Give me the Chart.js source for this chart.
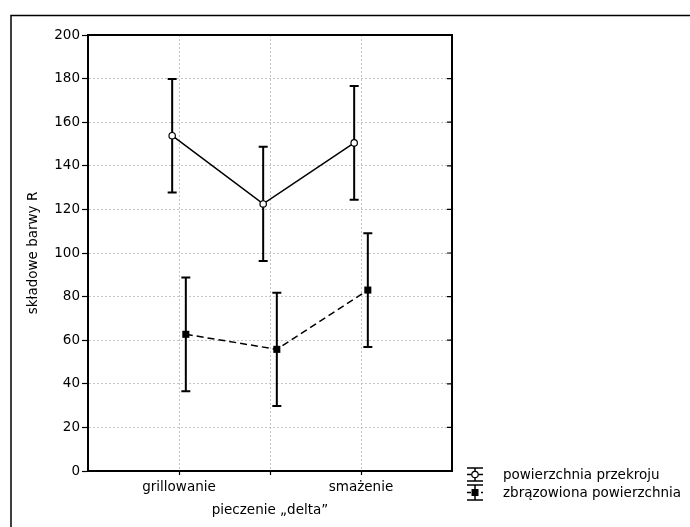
<!DOCTYPE html>
<html>
<head>
<meta charset="utf-8">
<script src="https://cdn.jsdelivr.net/npm/chart.js@4"></script>
<style>
  html, body { margin: 0; padding: 0; background: #fff; }
  #wrap { width: 690px; height: 527px; position: relative; }
</style>
</head>
<body>
<div id="wrap"><canvas id="chart"></canvas></div>
<script>
const categories = ['grillowanie', 'pieczenie „delta”', 'smażenie'];
const seriesNames = ['powierzchnia przekroju', 'zbrązowiona powierzchnia'];
const przekrojMean = [153.8, 122.5, 150.5];
const przekrojErr = [26.0, 26.2, 26.1];
const zbrazMean = [62.7, 55.8, 83.0];
const zbrazErr = [26.1, 26.0, 26.1];
const yTicks = [0, 20, 40, 60, 80, 100, 120, 140, 160, 180, 200];

const FONT = { family: '"DejaVu Sans", sans-serif', size: 13.5 };
const shift = 0.075;

const toPoints = (vals, err, dx) => vals.map((v, i) => ({ x: i + 1 + dx, y: v, e: err[i] }));

// error bars, drawn under the lines and markers
const errorBars = {
    id: 'errorBars',
    beforeDatasetsDraw(chart) {
        const { ctx, scales: { x, y } } = chart;
        ctx.save();
        ctx.strokeStyle = '#000';
        ctx.lineWidth = 2;
        chart.data.datasets.forEach(ds => {
            ds.data.forEach(p => {
                const px = x.getPixelForValue(p.x);
                const top = y.getPixelForValue(p.y + p.e);
                const bot = y.getPixelForValue(p.y - p.e);
                ctx.beginPath();
                ctx.moveTo(px, top); ctx.lineTo(px, bot);
                ctx.moveTo(px - 4.5, top); ctx.lineTo(px + 4.5, top);
                ctx.moveTo(px - 4.5, bot); ctx.lineTo(px + 4.5, bot);
                ctx.stroke();
            });
        });
        ctx.restore();
    }
};

// outer frame, top/right plot border, inner right ticks, legend
const frame = {
    id: 'frame',
    afterDraw(chart) {
        const { ctx, chartArea: a, scales: { y } } = chart;
        ctx.save();
        ctx.strokeStyle = '#000';
        ctx.lineWidth = 1.5;
        ctx.beginPath();
        ctx.moveTo(11, 527); ctx.lineTo(11, 15.5); ctx.lineTo(690, 15.5);
        ctx.stroke();

        ctx.lineWidth = 2;
        ctx.beginPath();
        ctx.moveTo(a.left, a.top); ctx.lineTo(a.right, a.top); ctx.lineTo(a.right, a.bottom);
        ctx.stroke();
        ctx.lineWidth = 1.2;
        ctx.beginPath();
        y.ticks.forEach(t => {
            const py = y.getPixelForValue(t.value);
            ctx.moveTo(a.right - 5, py); ctx.lineTo(a.right, py);
        });
        ctx.stroke();

        // legend
        const lx = 475, tx = 503;
        const rows = [
            { cy: 474.5, cap: 6.5, dash: [], marker: 'circle' },
            { cy: 492.5, cap: 7.5, dash: [4, 3], marker: 'rect' }
        ];
        ctx.font = `${FONT.size}px ${FONT.family}`;
        ctx.textBaseline = 'middle';
        ctx.fillStyle = '#000';
        rows.forEach((r, i) => {
            ctx.setLineDash([]);
            ctx.lineWidth = 1.5;
            ctx.beginPath();
            ctx.moveTo(lx - 8, r.cy - r.cap); ctx.lineTo(lx + 8, r.cy - r.cap);
            ctx.moveTo(lx - 8, r.cy + r.cap); ctx.lineTo(lx + 8, r.cy + r.cap);
            ctx.moveTo(lx, r.cy - r.cap); ctx.lineTo(lx, r.cy + r.cap);
            ctx.stroke();
            ctx.setLineDash(r.dash);
            ctx.beginPath();
            ctx.moveTo(lx - 8, r.cy); ctx.lineTo(lx + 8, r.cy);
            ctx.stroke();
            ctx.setLineDash([]);
            if (r.marker === 'circle') {
                ctx.beginPath();
                ctx.arc(lx, r.cy, 3.2, 0, Math.PI * 2);
                ctx.fillStyle = '#fff'; ctx.fill();
                ctx.lineWidth = 1.2; ctx.stroke();
                ctx.fillStyle = '#000';
            } else {
                ctx.fillRect(lx - 3.5, r.cy - 3.5, 7, 7);
            }
            ctx.fillText(seriesNames[i], tx, r.cy + 1);
        });
        ctx.restore();
    }
};

new Chart(document.getElementById('chart'), {
    type: 'line',
    data: {
        datasets: [
            {
                label: seriesNames[0],
                data: toPoints(przekrojMean, przekrojErr, -shift),
                borderColor: '#000',
                borderWidth: 1.5,
                pointStyle: 'circle',
                pointRadius: 3.2,
                pointBackgroundColor: '#fff',
                pointBorderColor: '#000',
                pointBorderWidth: 1.2,
                fill: false
            },
            {
                label: seriesNames[1],
                data: toPoints(zbrazMean, zbrazErr, shift),
                borderColor: '#000',
                borderWidth: 1.5,
                borderDash: [7, 4],
                pointStyle: 'rect',
                pointRadius: 5,
                pointBackgroundColor: '#000',
                pointBorderColor: '#000',
                pointBorderWidth: 0,
                fill: false
            }
        ]
    },
    options: {
        responsive: true,
        maintainAspectRatio: false,
        animation: false,
        layout: { padding: { left: 0, top: 35, right: 238, bottom: 0 } },
        plugins: { legend: { display: false }, tooltip: { enabled: false } },
        scales: {
            x: {
                type: 'linear',
                min: 0,
                max: 4,
                afterBuildTicks: s => { s.ticks = categories.map((c, i) => ({ value: i + 1 })); },
                afterFit: s => { s.height = 56; },
                ticks: {
                    color: '#000',
                    font: { ...FONT, lineHeight: 1.7 },
                    padding: 1.5,
                    maxRotation: 0,
                    autoSkip: false,
                    callback: v => {
                        const i = Math.round(v) - 1;
                        return i % 2 === 1 ? ['', categories[i]] : categories[i];
                    }
                },
                grid: { color: '#c4c4c4', lineWidth: 1, tickColor: '#000', tickLength: 4, tickWidth: 1.2 },
                border: { color: '#000', width: 2, dash: [2, 2] }
            },
            y: {
                min: 0,
                max: 200,
                afterBuildTicks: s => { s.ticks = yTicks.map(v => ({ value: v })); },
                afterFit: s => { s.width = 88; },
                ticks: { color: '#000', font: FONT, padding: 2 },
                grid: { color: '#c4c4c4', lineWidth: 1, tickColor: '#000', tickLength: 6, tickWidth: 1.2 },
                border: { color: '#000', width: 2, dash: [2, 2] },
                title: {
                    display: true,
                    text: 'składowe barwy R',
                    color: '#000',
                    font: FONT,
                    padding: { top: 25, bottom: 0 }
                }
            }
        }
    },
    plugins: [errorBars, frame]
});
</script>
</body>
</html>
